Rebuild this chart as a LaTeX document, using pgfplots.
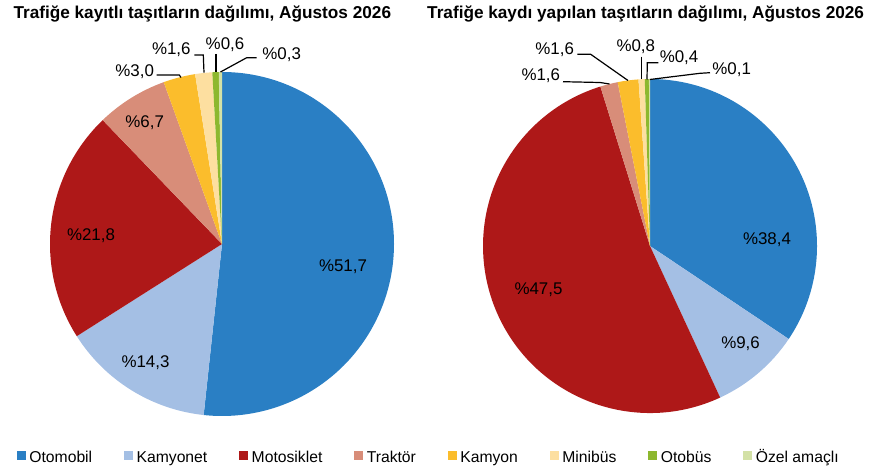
\documentclass[border=0pt]{standalone}
\usepackage{fontspec}
\setmainfont{Liberation Sans}
\usepackage{pgfplots}
\usepackage{pgfplotstable}
\pgfplotsset{compat=1.18}

\definecolor{c0}{HTML}{2A7FC4}
\definecolor{c1}{HTML}{A4BFE4}
\definecolor{c2}{HTML}{AE1818}
\definecolor{c3}{HTML}{D88D79}
\definecolor{c4}{HTML}{FBBD2C}
\definecolor{c5}{HTML}{FDDFA0}
\definecolor{c6}{HTML}{8DB82F}
\definecolor{c7}{HTML}{D3E1A6}

\newcommand\labfont{\fontsize{16.9}{20}\selectfont}
\newcommand\titfont{\fontsize{17.2}{20}\selectfont\bfseries}
\newcommand\legfont{\fontsize{15.7}{18.84}\selectfont}

% share = slice size as drawn, lab = printed label, (lx, ly) = label position
\pgfplotstableread{
share lab lx ly
51.7 51.7 343 205
14.3 14.3 145.5 109
21.8 21.8 91 236
6.7 6.7 144.7 349
3.0 3.0 134.7 400.3
1.6 1.6 171.3 422
0.6 0.6 225 427
0.3 0.3 281.7 417
}\kayitli

\pgfplotstableread{
share lab lx ly
34.4 38.4 767 232.3
8.7 9.6 740.5 128
52.1 47.5 538.5 182.3
1.7 1.6 540.8 396
2.0 1.6 554.7 422.3
0.6 0.8 635.8 425
0.4 0.4 679 414.7
0.1 0.1 731.7 402
}\kaydi

\newcommand\drawpie[4]{%
  \def\cum{0}%
  \pgfplotsforeachungrouped \i in {0,...,7}{%
    \pgfplotstablegetelem{\i}{share}\of#1\let\v\pgfplotsretval
    \pgfmathsetmacro\a{90-3.6*\cum}%
    \pgfmathsetmacro\cum{\cum+\v}%
    \pgfmathsetmacro\b{90-3.6*\cum}%
    \pgfmathsetmacro\sx{#2+#4*cos(\a)}%
    \pgfmathsetmacro\sy{#3+#4*sin(\a)}%
    \edef\cmd{\noexpand\fill[c\i] (axis cs:#2,#3) -- (axis cs:\sx,\sy) arc[start angle=\a,end angle=\b,radius=#4pt] -- cycle;}%
    \cmd
  }%
  \pgfplotsforeachungrouped \i in {0,...,7}{%
    \pgfplotstablegetelem{\i}{lab}\of#1\let\v\pgfplotsretval
    \pgfplotstablegetelem{\i}{lx}\of#1\let\lx\pgfplotsretval
    \pgfplotstablegetelem{\i}{ly}\of#1\let\ly\pgfplotsretval
    \edef\cmd{\noexpand\node[font=\noexpand\labfont, inner sep=0pt] at (axis cs:\lx,\ly) {\noexpand\%\noexpand\pgfmathprintnumber[fixed,fixed zerofill,precision=1,use comma,assume math mode=true]{\v}};}%
    \cmd
  }%
}

\begin{document}
\begin{tikzpicture}
\begin{axis}[
  x=1pt, y=1pt, xmin=0, xmax=880, ymin=0, ymax=472,
  scale only axis, hide axis, clip=false,
  at={(0,0)}, anchor=south west,
  legend columns=8,
  legend style={draw=none, fill=none, inner sep=0pt, outer sep=0pt,
    at={(0.019318,0.03316)}, anchor=west, font=\legfont,
    nodes={inner sep=0pt},
    /tikz/every odd column/.append style={column sep=4pt},
    /tikz/every even column/.append style={column sep=32pt}},
  legend image code/.code={\fill[#1] (0pt,-2.65pt) rectangle (8pt,5.35pt);},
]
\drawpie{\kayitli}{222}{228}{172}
\drawpie{\kaydi}{650}{226}{167}

% leader lines, pie 1
\addplot[black, line width=1.2pt, forget plot] coordinates {(156.7,397) (179.3,397) (181,394.5)};
\addplot[black, line width=1.2pt, forget plot] coordinates {(194.3,417) (203.3,417) (204,399.3)};
\addplot[black, line width=1.2pt, forget plot] coordinates {(216,418) (216,400)};
\addplot[black, line width=1.2pt, forget plot] coordinates {(256.7,414.3) (246.7,414.3) (220.5,400)};
% leader lines, pie 2
\addplot[black, line width=1.2pt, forget plot] coordinates {(563,390.3) (600,389.5) (609.5,388)};
\addplot[black, line width=1.2pt, forget plot] coordinates {(577.3,417.7) (590.7,417.7) (628,391.5)};
\addplot[black, line width=1.2pt, forget plot] coordinates {(641.5,415.3) (641.5,392.5)};
\addplot[black, line width=1.2pt, forget plot] coordinates {(658.3,409.3) (647.3,409.3) (647,392.5)};
\addplot[black, line width=1.2pt, forget plot] coordinates {(710,399.3) (700,398.7) (649.8,392.5)};

\node[font=\titfont, anchor=base west, inner sep=0pt] at (axis cs:13.3,453) {Trafiğe kayıtlı taşıtların dağılımı, Ağustos 2026};
\node[font=\titfont, anchor=base west, inner sep=0pt] at (axis cs:427,453) {Trafiğe kaydı yapılan taşıtların dağılımı, Ağustos 2026};

\addlegendimage{c0}\addlegendentry{\strut Otomobil}
\addlegendimage{c1}\addlegendentry{\strut Kamyonet}
\addlegendimage{c2}\addlegendentry{\strut Motosiklet}
\addlegendimage{c3}\addlegendentry{\strut Traktör}
\addlegendimage{c4}\addlegendentry{\strut Kamyon}
\addlegendimage{c5}\addlegendentry{\strut Minibüs}
\addlegendimage{c6}\addlegendentry{\strut Otobüs}
\addlegendimage{c7}\addlegendentry{\strut Özel amaçlı}
\end{axis}
\pgfresetboundingbox
\useasboundingbox (0,0) rectangle (880pt,472pt);
\end{tikzpicture}
\end{document}
